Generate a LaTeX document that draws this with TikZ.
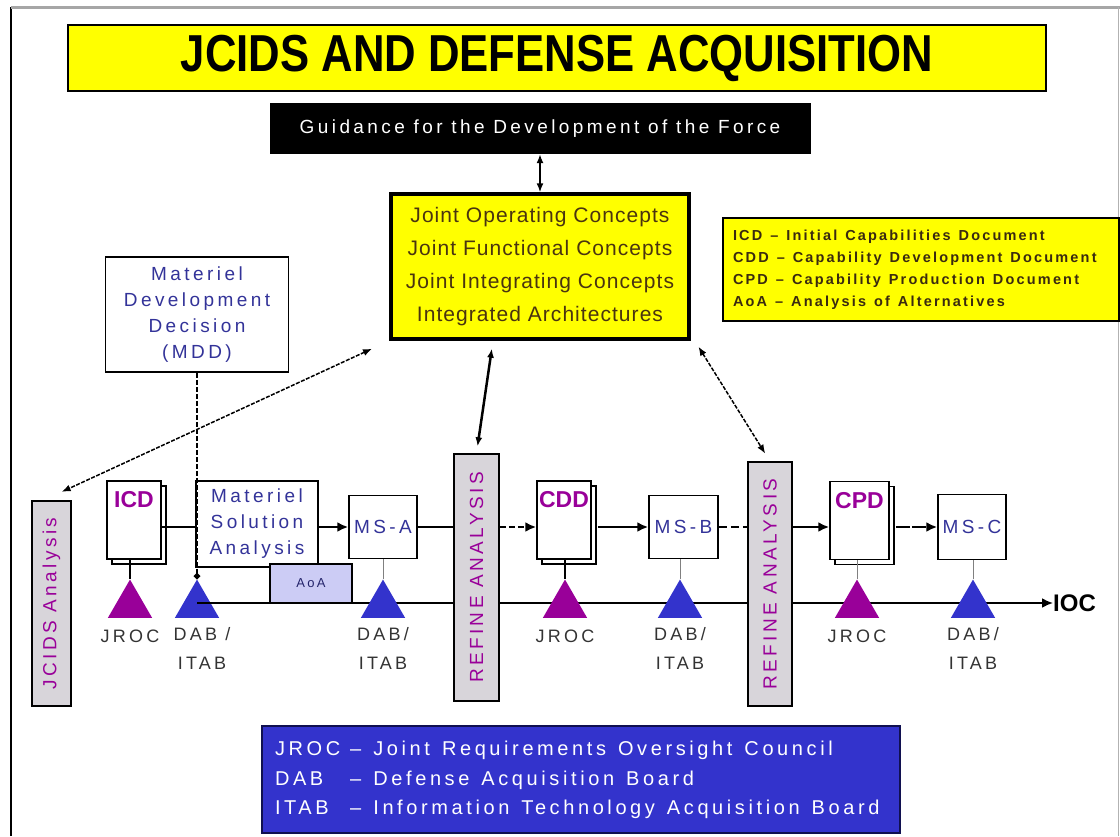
\documentclass[tikz,border=0pt]{standalone}
\usepackage{fontspec}
\setmainfont{Liberation Sans}
\newfontfamily\wideface[LetterSpace=18]{Liberation Sans}
\newfontfamily\snugface[LetterSpace=5]{Liberation Sans}
\newfontfamily\keyface[LetterSpace=15]{Liberation Sans}
\usetikzlibrary{arrows.meta,shapes.geometric,shadows}

\definecolor{signyellow}{HTML}{FFFF00}
\definecolor{boardblue}{HTML}{3333CC}
\definecolor{navyline}{HTML}{101050}
\definecolor{jrocpurple}{HTML}{990099}
\definecolor{inkblue}{HTML}{333399}
\definecolor{refinegray}{HTML}{D8D5DA}
\definecolor{aoalilac}{HTML}{CCCCF5}
\definecolor{conceptink}{HTML}{4A3410}
\definecolor{legendink}{HTML}{3A2A10}
\definecolor{labelink}{HTML}{333333}

\newcommand{\setfs}[2]{\fontsize{#1}{#2}\selectfont}

\begin{document}
\begin{tikzpicture}[x=1pt, y=-1pt,
    every node/.style={inner sep=0pt},
    msbox/.style={draw, line width=1.5pt, fill=white, align=center, text=inkblue,
        font=\wideface\setfs{19}{26}},
    docbox/.style={draw, line width=1.5pt, fill=white, minimum width=54pt, minimum height=78pt,
        copy shadow={shadow xshift=5pt, shadow yshift=-5pt}},
    doctitle/.style={text=jrocpurple, font=\bfseries\setfs{23}{23}},
    refinebox/.style={draw, line width=1.5pt, fill=refinegray, rotate=90, text=jrocpurple,
        font=\wideface\setfs{19}{19}},
    boardmark/.style={regular polygon, regular polygon sides=3, minimum size=51pt, anchor=south},
    jrocmark/.style={boardmark, fill=jrocpurple},
    dabmark/.style={boardmark, fill=boardblue},
    tag/.style={text=labelink, align=center, font=\wideface\setfs{18}{29}},
    linkarrow/.style={{Latex[length=9pt,width=7pt]}-{Latex[length=9pt,width=7pt]}, line width=1.5pt},
    flowline/.style={line width=2.5pt},
    tip/.style={-{Latex[length=11pt,width=10pt]}},
    stemline/.style={line width=2.5pt},
    thinstem/.style={line width=1pt, draw=gray}]
\useasboundingbox (0,0) rectangle (1120,836);

% frame
\draw[line width=2pt] (11,836) -- (11,7);
\draw[gray!70, line width=3pt] (11,7) -- (1120,7);
\draw[gray!60, line width=1pt] (1118,7) -- (1118,836);

% heading and guidance
\node[draw, line width=1.5pt, fill=signyellow, minimum width=978pt, minimum height=66pt,
    font=\bfseries\setfs{52}{52}] (title) at (557,58)
    {\scalebox{0.84}[1]{JCIDS AND DEFENSE ACQUISITION}};
\node[fill=black, text=white, minimum width=541pt, minimum height=51pt,
    font=\wideface\setfs{19}{19}] (guide) at (540,128.5)
    {Guidance for the Development of the Force};
\node[draw, line width=3.5pt, fill=signyellow, minimum width=298pt, minimum height=145pt,
    align=center, text=conceptink, font=\snugface\setfs{21}{33}] (concepts) at (540,266.5)
    {Joint Operating Concepts\\Joint Functional Concepts\\Joint Integrating Concepts\\Integrated Architectures};
\node[draw, line width=1.5pt, fill=signyellow, minimum width=396pt, minimum height=103pt,
    text width=376pt, align=left, text=legendink,
    font=\keyface\bfseries\setfs{14.5}{22}] (legend) at (921,269.5)
    {\spaceskip=8pt\relax ICD – Initial Capabilities Document\\CDD – Capability Development Document\\
     CPD – Capability Production Document\\AoA – Analysis of Alternatives};
\node[msbox, minimum width=183pt, minimum height=115pt] (mdd) at (197,314.5)
    {Materiel\\Development\\Decision\\(MDD)};

% base line to IOC
\node[font=\bfseries\setfs{24}{24}, anchor=west] (ioc) at (1053,603) {IOC};
\node[dabmark] (dabA) at (197,618) {};
\draw[line width=2pt, tip] (ioc.west -| dabA) -- (ioc.west);

% acquisition flow
\node[refinebox, minimum width=205pt, minimum height=39pt] (jcids) at (51.5,603.5) {JCIDS Analysis};
\node[docbox, label={[doctitle, anchor=north, label distance=-11pt]north:ICD}] (icd) at (134,520) {};
\node[msbox, minimum width=122pt, minimum height=86pt] (msa) at (257,524)
    {Materiel\\Solution\\Analysis};
\node[msbox, minimum width=68pt, minimum height=63pt] (msA) at (383,527) {MS-A};
\node[draw, line width=1.5pt, fill=aoalilac, minimum width=82pt, minimum height=39pt,
    text=inkblue!70!black, font=\wideface\setfs{13}{13}] (aoa) at (311,583.5) {AoA};
\node[refinebox, minimum width=247pt, minimum height=45pt] (refineA) at (476.5,577.5) {REFINE ANALYSIS};
\node[docbox, label={[doctitle, anchor=north, label distance=-11pt]north:CDD}] (cdd) at (564,520) {};
\node[msbox, minimum width=69pt, minimum height=63pt] (msB) at (683.5,527) {MS-B};
\node[refinebox, minimum width=244pt, minimum height=44pt] (refineB) at (770,584) {REFINE ANALYSIS};
\node[docbox, minimum width=59pt, label={[doctitle, anchor=north, label distance=-11pt]north:CPD}] (cpd) at (859.5,520.5) {};
\node[msbox, minimum width=68pt, minimum height=65pt] (msC) at (972,527) {MS-C};

% review boards
\node[jrocmark, label={[tag, label distance=12pt]below:JROC}] (jrocA) at (130,618) {};
\node[dabmark, label={[tag, label distance=9pt]below:DAB/\\ITAB}] (dabB) at (383,618) {};
\node[jrocmark, label={[tag, label distance=12pt]below:JROC}] (jrocB) at (565,618) {};
\node[dabmark, label={[tag, label distance=9pt]below:DAB/\\ITAB}] (dabC) at (680,618) {};
\node[jrocmark, label={[tag, label distance=12pt]below:JROC}] (jrocC) at (857,618) {};
\node[dabmark, label={[tag, label distance=9pt]below:DAB/\\ITAB}] (dabD) at (973,618) {};
\node[tag, anchor=north] (dabAtag) at (202,627) {DAB /\\ITAB};

\draw[flowline] (icd.east |- msA) -- (msa.west |- msA);
\draw[flowline, tip] (msa.east |- msA) -- (msA.west);
\draw[flowline] (msA.east) -- (refineA.north |- msA);
\draw[flowline, tip, dash pattern=on 6pt off 3pt] (refineA.south |- msA) -- (cdd.west |- msA);
\draw[flowline, tip] ([xshift=6pt]cdd.east |- msB) -- (msB.west);
\draw[flowline, dash pattern=on 8pt off 4pt] (msB.east) -- (refineB.north |- msB);
\draw[flowline, tip] (refineB.south |- msB) -- (cpd.west |- msB);
\draw[flowline, tip, dash pattern=on 14pt off 2pt] ([xshift=6pt]cpd.east |- msC) -- (msC.west);

\draw[stemline] (jrocA.corner 1 |- icd.south) -- (jrocA.corner 1);
\draw[stemline] (jrocB.corner 1 |- cdd.south) -- (jrocB.corner 1);
\draw[thinstem] (dabB.corner 1 |- msA.south) -- (dabB.corner 1);
\draw[thinstem] (dabC.corner 1 |- msB.south) -- (dabC.corner 1);
\draw[thinstem] (jrocC.corner 1 |- cpd.south) -- (jrocC.corner 1);
\draw[thinstem] (dabD.corner 1 |- msC.south) -- (dabD.corner 1);
\draw[line width=2.5pt, dash pattern=on 5pt off 2pt, -{Circle[length=6pt]}] (mdd.south) -- (dabA.corner 1);

% links to the concepts
\draw[linkarrow] (guide.south) -- (concepts.north);
\draw[linkarrow, dash pattern=on 4pt off 1.5pt, shorten <=19pt, shorten >=20pt] (concepts.south west) -- ([xshift=-8pt]jcids.east);
\draw[linkarrow, line width=2.5pt, shorten <=8pt, shorten >=7pt] ([xshift=-47pt]concepts.south) -- (refineA.east);
\draw[linkarrow, dash pattern=on 4pt off 1.5pt, shorten <=7pt, shorten >=9pt] ([xshift=4pt]concepts.south east) -- (refineB.east);

% board legend
\node[draw=navyline, line width=2pt, fill=boardblue, minimum width=638pt, minimum height=107pt,
    text width=612pt, align=left, text=white, font=\wideface\setfs{20}{29.5}] (boards) at (581,779.5)
    {\spaceskip=12pt\relax
     \begin{tabular}{@{}l@{\hspace{10pt}}l@{}}
     JROC & – Joint Requirements Oversight Council\\
     DAB & – Defense Acquisition Board\\
     ITAB & – Information Technology Acquisition Board
     \end{tabular}};
\end{tikzpicture}
\end{document}
